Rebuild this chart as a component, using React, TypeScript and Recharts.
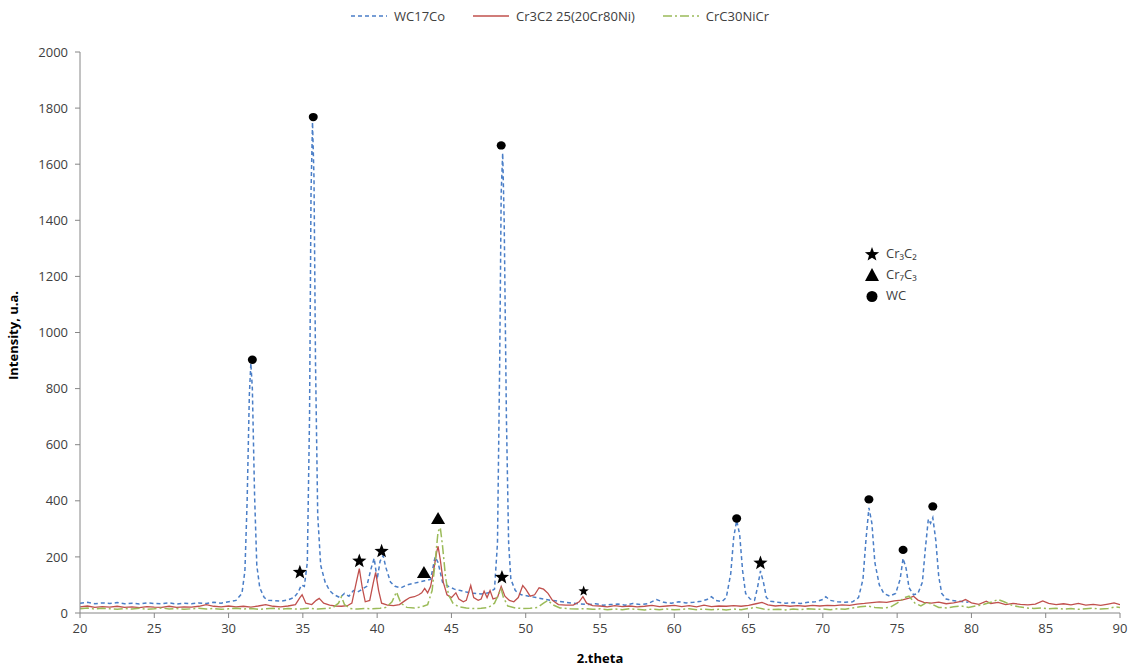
import React from "react";
import {
  ComposedChart,
  Line,
  Scatter,
  XAxis,
  YAxis,
} from "recharts";

// [2theta, intensity]
const wc17coPoints: [number, number][] = [
  [20, 35], [20.5, 38], [21, 33], [21.5, 36], [22, 34], [22.5, 37], [23, 33], [23.5, 35],
  [24, 32], [24.5, 36], [25, 34], [25.5, 33], [26, 36], [26.5, 32], [27, 35], [27.5, 33],
  [28, 36], [28.5, 34], [29, 38], [29.5, 35], [30, 40], [30.5, 45], [30.9, 70], [31.1, 150],
  [31.25, 400], [31.4, 780], [31.5, 890], [31.6, 800], [31.75, 420], [31.9, 170], [32.1, 90],
  [32.4, 55], [32.7, 45], [33, 44], [33.5, 42], [34, 47], [34.4, 55], [34.7, 75], [34.9, 100],
  [35.1, 95], [35.3, 180], [35.45, 700], [35.55, 1500], [35.65, 1750], [35.75, 1550],
  [35.85, 900], [36.0, 350], [36.2, 170], [36.5, 110], [36.8, 80], [37.1, 65], [37.5, 55],
  [37.8, 70], [38.1, 60], [38.4, 80], [38.7, 75], [39.0, 85], [39.3, 95], [39.6, 160],
  [39.8, 195], [40.0, 120], [40.2, 185], [40.4, 205], [40.6, 160], [40.9, 110], [41.2, 95],
  [41.6, 90], [42.0, 100], [42.4, 105], [42.8, 110], [43.2, 115], [43.6, 120], [43.9, 200],
  [44.1, 180], [44.4, 110], [44.8, 95], [45.2, 85], [45.6, 80], [46.0, 75], [46.5, 70],
  [47.0, 68], [47.5, 72], [47.9, 85], [48.1, 250], [48.25, 900], [48.35, 1500], [48.45, 1640],
  [48.55, 1400], [48.7, 700], [48.85, 250], [49.0, 120], [49.3, 80], [49.7, 65], [50.2, 60],
  [50.7, 55], [51.2, 50], [51.7, 45], [52.2, 42], [52.7, 38], [53.2, 35], [53.7, 32],
  [54.2, 30], [54.7, 33], [55.2, 28], [55.7, 30], [56.2, 32], [56.7, 28], [57.2, 34],
  [57.7, 30], [58.2, 33], [58.8, 48], [59.3, 38], [59.8, 35], [60.3, 40], [60.8, 36],
  [61.3, 38], [61.8, 42], [62.2, 48], [62.5, 58], [62.8, 45], [63.2, 40], [63.5, 55],
  [63.8, 140], [64.0, 270], [64.2, 330], [64.4, 280], [64.6, 150], [64.8, 70], [65.1, 50],
  [65.4, 45], [65.6, 90], [65.8, 150], [66.0, 110], [66.2, 55], [66.5, 42], [67.0, 38],
  [67.5, 35], [68.0, 37], [68.5, 34], [69.0, 38], [69.5, 40], [70.0, 48], [70.2, 58],
  [70.5, 45], [71.0, 40], [71.5, 38], [72.0, 40], [72.4, 55], [72.7, 120], [72.9, 260],
  [73.1, 375], [73.3, 320], [73.5, 180], [73.8, 100], [74.1, 70], [74.5, 60], [74.9, 70],
  [75.2, 120], [75.4, 195], [75.6, 160], [75.8, 90], [76.1, 65], [76.4, 70], [76.7, 110],
  [76.9, 230], [77.1, 335], [77.25, 320], [77.4, 340], [77.6, 260], [77.8, 130], [78.0, 70],
  [78.3, 50], [78.7, 45], [79.1, 42], [79.5, 40], [79.8, 38],
];

const cr3c2Points: [number, number][] = [
  [20, 22], [20.5, 25], [21, 20], [21.5, 23], [22, 21], [22.5, 24], [23, 20], [23.5, 22],
  [24, 19], [24.5, 23], [25, 21], [25.5, 20], [26, 24], [26.5, 20], [27, 22], [27.5, 21],
  [28, 24], [28.5, 30], [29, 24], [29.5, 22], [30, 25], [30.5, 22], [31, 24], [31.5, 21],
  [32, 25], [32.5, 30], [33, 24], [33.5, 22], [34, 25], [34.5, 30], [34.8, 55], [34.95, 65],
  [35.2, 35], [35.6, 30], [35.9, 45], [36.1, 52], [36.4, 35], [36.8, 28], [37.2, 25],
  [37.6, 24], [38.0, 26], [38.3, 35], [38.6, 110], [38.8, 158], [39.0, 90], [39.2, 40],
  [39.5, 45], [39.75, 110], [39.9, 145], [40.1, 80], [40.3, 35], [40.7, 28], [41.1, 26],
  [41.5, 30], [41.9, 45], [42.2, 55], [42.5, 58], [42.8, 65], [43.0, 72], [43.2, 88],
  [43.4, 72], [43.6, 95], [43.8, 150], [44.0, 215], [44.1, 238], [44.25, 190], [44.45, 110],
  [44.7, 65], [45.0, 55], [45.3, 72], [45.5, 50], [45.8, 40], [46.0, 45], [46.3, 98],
  [46.5, 55], [46.8, 45], [47.0, 50], [47.2, 78], [47.4, 55], [47.6, 80], [47.8, 50],
  [48.1, 55], [48.35, 95], [48.6, 60], [48.9, 45], [49.2, 40], [49.5, 55], [49.8, 98],
  [50.0, 85], [50.3, 60], [50.6, 65], [50.9, 90], [51.2, 85], [51.5, 70], [51.8, 45],
  [52.2, 30], [52.7, 28], [53.2, 28], [53.6, 40], [53.85, 58], [54.1, 35], [54.5, 26],
  [55, 25], [55.5, 22], [56, 26], [56.5, 23], [57, 25], [57.5, 22], [58, 24], [58.5, 27],
  [59, 23], [59.5, 25], [60, 27], [60.5, 23], [61, 26], [61.5, 22], [62, 28], [62.5, 23],
  [63, 25], [63.5, 24], [64, 26], [64.5, 24], [65, 27], [65.5, 33], [65.9, 38], [66.3, 29],
  [66.8, 25], [67.3, 27], [67.8, 24], [68.3, 26], [68.8, 24], [69.3, 27], [69.8, 25],
  [70.3, 27], [70.8, 26], [71.3, 29], [71.8, 27], [72.3, 32], [72.8, 34], [73.3, 37],
  [73.8, 40], [74.3, 38], [74.8, 43], [75.3, 46], [75.8, 53], [76.1, 60], [76.4, 46],
  [76.8, 38], [77.3, 35], [77.8, 39], [78.3, 33], [78.8, 36], [79.3, 41], [79.6, 48],
  [80.0, 36], [80.5, 31], [81.0, 42], [81.3, 34], [81.8, 38], [82.3, 30], [82.8, 34],
  [83.3, 31], [83.8, 29], [84.3, 32], [84.8, 43], [85.2, 34], [85.7, 30], [86.2, 33],
  [86.7, 29], [87.2, 34], [87.7, 28], [88.2, 31], [88.7, 27], [89.2, 32], [89.6, 36],
  [90, 30],
];

const crc30nicrPoints: [number, number][] = [
  [20, 15], [20.5, 18], [21, 14], [21.5, 17], [22, 15], [22.5, 13], [23, 16], [23.5, 14],
  [24, 17], [24.5, 13], [25, 15], [25.5, 18], [26, 14], [26.5, 16], [27, 13], [27.5, 15],
  [28, 17], [28.5, 14], [29, 16], [29.5, 13], [30, 15], [30.5, 17], [31, 14], [31.5, 16],
  [32, 13], [32.5, 15], [33, 17], [33.5, 14], [34, 16], [34.5, 14], [35, 15], [35.5, 17],
  [36, 14], [36.5, 16], [37, 18], [37.4, 35], [37.6, 58], [37.8, 30], [38.2, 16], [38.7, 14],
  [39.2, 16], [39.7, 15], [40.2, 17], [40.6, 20], [41.0, 40], [41.3, 75], [41.6, 35],
  [42.0, 20], [42.5, 18], [43.0, 22], [43.4, 30], [43.7, 80], [43.9, 180], [44.1, 290],
  [44.25, 305], [44.4, 240], [44.6, 130], [44.8, 65], [45.1, 35], [45.5, 22], [46.0, 18],
  [46.5, 16], [47.0, 17], [47.5, 20], [47.9, 35], [48.2, 70], [48.35, 85], [48.5, 55],
  [48.8, 25], [49.3, 18], [49.8, 16], [50.3, 17], [50.8, 20], [51.2, 35], [51.5, 45],
  [51.8, 30], [52.3, 18], [53, 15], [53.5, 14], [54, 16], [54.5, 13], [55, 15], [55.5, 12],
  [56, 14], [56.5, 12], [57, 15], [57.5, 13], [58, 11], [58.5, 14], [59, 12], [59.5, 14],
  [60, 12], [60.5, 13], [61, 15], [61.5, 12], [62, 14], [62.5, 12], [63, 13], [63.5, 11],
  [64, 14], [64.5, 12], [65, 16], [65.5, 20], [66, 14], [66.5, 12], [67, 13], [67.5, 11],
  [68, 14], [68.5, 12], [69, 15], [69.5, 13], [70, 14], [70.5, 12], [71, 15], [71.5, 13],
  [72, 18], [72.5, 22], [73, 25], [73.5, 20], [74, 18], [74.5, 20], [75, 35], [75.5, 55],
  [75.8, 60], [76.2, 35], [76.6, 25], [77, 38], [77.4, 30], [77.8, 20], [78.3, 18],
  [78.8, 22], [79.3, 25], [79.8, 20], [80.3, 25], [80.8, 30], [81.3, 38], [81.8, 48],
  [82.2, 40], [82.7, 28], [83.2, 22], [83.7, 18], [84.2, 16], [84.7, 18], [85.2, 15],
  [85.7, 17], [86.2, 14], [86.7, 16], [87.2, 13], [87.7, 15], [88.2, 17], [88.7, 14],
  [89.2, 16], [89.7, 22], [90, 20],
];

// phase markers placed above the peaks
const cr3c2Marks: [number, number][] = [
  [34.8, 145], [38.8, 185], [40.3, 220], [48.4, 127], [53.9, 78], [65.8, 178],
];
const cr7c3Marks: [number, number][] = [
  [43.15, 143], [44.1, 335],
];
const wcMarks: [number, number][] = [
  [31.6, 903], [35.7, 1768], [48.35, 1667], [64.2, 337], [73.1, 405], [75.4, 225], [77.4, 380],
];

const xTicks = [20, 25, 30, 35, 40, 45, 50, 55, 60, 65, 70, 75, 80, 85, 90];
const yTicks = [0, 200, 400, 600, 800, 1000, 1200, 1400, 1600, 1800, 2000];

const toRows = (pts: [number, number][]) => pts.map(([x, y]) => ({ x, y }));

const FONT = "'Open Sans', 'Liberation Sans', sans-serif";
const AXIS = "#868686";
const BLUE = "#4A7EC7";
const RED = "#C0504D";
const GREEN = "#9BBB59";

function starPoints(cx: number, cy: number, r: number) {
  const pts: string[] = [];
  for (let i = 0; i < 10; i++) {
    const rr = i % 2 === 0 ? r : r * 0.42;
    const a = -Math.PI / 2 + (i * Math.PI) / 5;
    pts.push(`${cx + rr * Math.cos(a)},${cy + rr * Math.sin(a)}`);
  }
  return pts.join(" ");
}

const StarShape = (props: any) => {
  const { cx, cy, payload } = props;
  const r = payload && payload.y < 100 ? 5.5 : 7.5;
  return <polygon points={starPoints(cx, cy, r)} fill="#000" />;
};

const TriangleShape = (props: any) => {
  const { cx, cy } = props;
  return (
    <polygon
      points={`${cx},${cy - 7} ${cx + 7},${cy + 5} ${cx - 7},${cy + 5}`}
      fill="#000"
    />
  );
};

const CircleShape = (props: any) => {
  const { cx, cy } = props;
  return <ellipse cx={cx} cy={cy} rx={4.5} ry={4.2} fill="#000" />;
};

const legendItems = [
  { name: "WC17Co", color: BLUE, dash: "4 3" },
  { name: "Cr3C2 25(20Cr80Ni)", color: RED, dash: undefined },
  { name: "CrC30NiCr", color: GREEN, dash: "9 3 2 3" },
];

function TopLegend() {
  return (
    <div
      style={{
        position: "absolute",
        left: 350,
        top: 7,
        display: "flex",
        gap: 27,
        fontFamily: FONT,
        fontSize: 13,
        color: "#404040",
      }}
    >
      {legendItems.map((it) => (
        <div key={it.name} style={{ display: "flex", alignItems: "center" }}>
          <svg width={38} height={10} style={{ marginRight: 6 }}>
            <line
              x1={1}
              y1={5}
              x2={37}
              y2={5}
              stroke={it.color}
              strokeWidth={1.5}
              strokeDasharray={it.dash}
            />
          </svg>
          <span>{it.name}</span>
        </div>
      ))}
    </div>
  );
}

const phaseLegend = [
  { label: "Cr₃C₂", shape: "star" },
  { label: "Cr₇C₃", shape: "triangle" },
  { label: "WC", shape: "circle" },
];

export default function App() {
  return (
    <div
      style={{
        position: "absolute",
        left: 0,
        top: 0,
        width: 1134,
        height: 666,
        background: "#fff",
        overflow: "hidden",
      }}
    >
      <ComposedChart
        width={1134}
        height={666}
        margin={{ top: 52, right: 14, bottom: 23, left: 20 }}
      >
        <XAxis
          dataKey="x"
          type="number"
          domain={[20, 90]}
          ticks={xTicks}
          allowDataOverflow
          stroke={AXIS}
          tickSize={5}
          tickMargin={6}
          height={30}
          tick={{ fill: "#404040", fontSize: 13, fontFamily: FONT }}
          label={{
            value: "2.theta",
            position: "insideBottom",
            offset: -20,
            style: { fontWeight: 700, fontSize: 13, fontFamily: FONT, fill: "#000" },
          }}
        />
        <YAxis
          dataKey="y"
          type="number"
          domain={[0, 2000]}
          ticks={yTicks}
          allowDataOverflow
          width={60}
          stroke={AXIS}
          tickSize={5}
          tickMargin={7}
          tick={{ fill: "#404040", fontSize: 13, fontFamily: FONT }}
          label={{
            content: (p: any) => {
              const vb = p.viewBox || { x: 20, y: 52, height: 561 };
              const cx = vb.x - 7;
              const cy = vb.y + vb.height / 2 + 3;
              return (
                <text
                  x={cx}
                  y={cy}
                  transform={`rotate(-90 ${cx} ${cy})`}
                  textAnchor="middle"
                  dominantBaseline="central"
                  style={{ fontWeight: 700, fontSize: 13, fontFamily: FONT, fill: "#000" }}
                >
                  Intensity, u.a.
                </text>
              );
            },
          }}
        />
        <Line
          data={toRows(wc17coPoints)}
          dataKey="y"
          name="WC17Co"
          type="linear"
          stroke={BLUE}
          strokeWidth={1.5}
          strokeDasharray="4 3"
          dot={false}
          isAnimationActive={false}
        />
        <Line
          data={toRows(cr3c2Points)}
          dataKey="y"
          name="Cr3C2 25(20Cr80Ni)"
          type="linear"
          stroke={RED}
          strokeWidth={1.3}
          dot={false}
          isAnimationActive={false}
        />
        <Line
          data={toRows(crc30nicrPoints)}
          dataKey="y"
          name="CrC30NiCr"
          type="linear"
          stroke={GREEN}
          strokeWidth={1.5}
          strokeDasharray="9 3 2 3"
          dot={false}
          isAnimationActive={false}
        />
        <Scatter
          data={toRows(cr3c2Marks)}
          dataKey="y"
          shape={StarShape}
          isAnimationActive={false}
        />
        <Scatter
          data={toRows(cr7c3Marks)}
          dataKey="y"
          shape={TriangleShape}
          isAnimationActive={false}
        />
        <Scatter
          data={toRows(wcMarks)}
          dataKey="y"
          shape={CircleShape}
          isAnimationActive={false}
        />
      </ComposedChart>

      <TopLegend />

      <div
        style={{
          position: "absolute",
          left: 864,
          top: 243,
          fontFamily: FONT,
          fontSize: 13,
          color: "#404040",
          lineHeight: "21px",
        }}
      >
        {phaseLegend.map((p) => (
          <div key={p.label} style={{ display: "flex", alignItems: "center" }}>
            <svg width={16} height={16} style={{ marginRight: 6 }}>
              {p.shape === "star" && <polygon points={starPoints(8, 8.5, 7.5)} fill="#000" />}
              {p.shape === "triangle" && <polygon points="8,1 15,14 1,14" fill="#000" />}
              {p.shape === "circle" && <circle cx={8} cy={8.5} r={5.5} fill="#000" />}
            </svg>
            <span>{p.label}</span>
          </div>
        ))}
      </div>
    </div>
  );
}
